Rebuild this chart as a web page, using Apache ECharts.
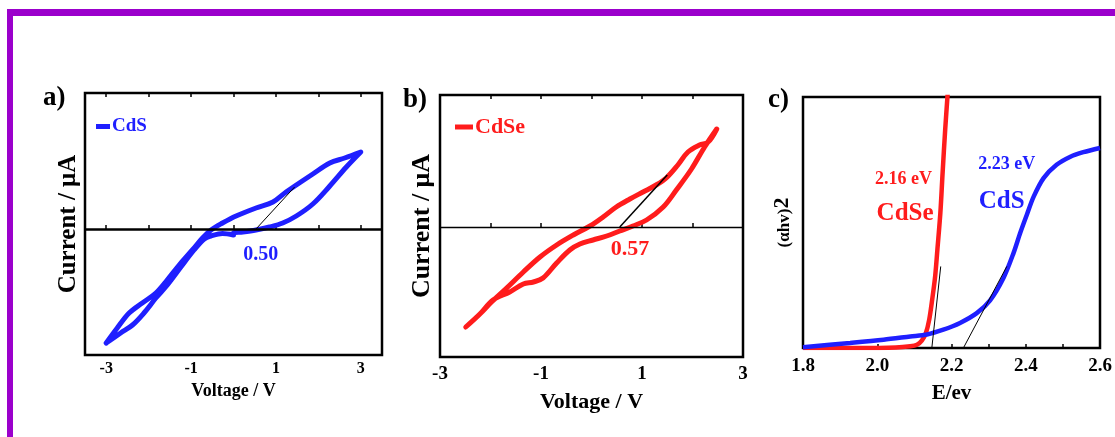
<!DOCTYPE html>
<html>
<head>
<meta charset="utf-8">
<script src="https://cdn.jsdelivr.net/npm/echarts@6/dist/echarts.min.js"></script>
<style>
html, body { margin: 0; padding: 0; background: #fff; }
#chart { width: 1115px; height: 437px; }
</style>
</head>
<body>
<div id="chart"></div>
<script>
// a) CdS current-voltage loop (forward sweep, then back)
var cdsFwdV = [-3, -2.74, -2.46, -2.15, -1.83, -1.6, -1.28, -0.97, -0.73, -0.53, -0.26, 0.06, 0.53, 0.93, 1.24, 1.48, 1.87, 2.27, 2.62, 3];
var cdsFwdI = [-11.4, -9.9, -8.4, -7.4, -6.4, -5.3, -3.6, -2.1, -0.9, -0.1, 0.6, 1.3, 2.1, 2.7, 3.7, 4.4, 5.5, 6.6, 7.1, 7.7];
var cdsRevV = [2.66, 2.27, 1.87, 1.48, 1.16, 0.85, 0.53, 0.22, 0.0, 0.0, -0.26, -0.53, -0.69, -0.93, -1.24, -1.56, -1.83, -2.11, -2.38, -2.66, -3];
var cdsRevI = [6.2, 4.3, 2.5, 1.3, 0.6, 0.2, -0.1, -0.3, -0.4, -0.6, -0.45, -0.7, -1.0, -2.1, -3.8, -5.6, -6.9, -8.4, -9.6, -10.4, -11.4];
var cdsTangentV = [0.53, 1.44];
var cdsTangentI = [0, 4.2];

// b) CdSe current-voltage loop
var cdseFwdV = [-2.49, -2.21, -1.98, -1.68, -1.35, -1.02, -0.69, -0.36, -0.03, 0.23, 0.49, 0.76, 1.02, 1.28, 1.48, 1.71, 1.91, 2.14, 2.31, 2.48];
var cdseFwdI = [-10, -8.7, -7.5, -6.1, -4.5, -3.0, -1.8, -0.8, 0.1, 1.0, 2.0, 2.8, 3.5, 4.2, 4.9, 6.2, 7.5, 8.2, 8.5, 9.8];
var cdseRevV = [2.24, 1.98, 1.68, 1.42, 1.09, 0.82, 0.56, 0.3, 0.03, -0.23, -0.43, -0.69, -0.96, -1.15, -1.35, -1.62, -1.95, -2.21, -2.49];
var cdseRevI = [8.0, 5.8, 3.7, 2.0, 0.7, 0.1, -0.4, -0.9, -1.3, -1.7, -2.3, -3.6, -5.1, -5.5, -5.7, -6.5, -7.3, -8.7, -10];
var cdseTangentV = [0.56, 1.5];
var cdseTangentI = [0, 5.2];

// c) Tauc plot
var cdsE = [1.8, 1.927, 2.017, 2.089, 2.134, 2.178, 2.223, 2.268, 2.304, 2.34, 2.367, 2.385, 2.403, 2.421, 2.448, 2.483, 2.519, 2.555, 2.6];
var cdsAbs = [0.3, 2.0, 3.3, 4.6, 5.4, 7.3, 10.0, 13.9, 19.0, 27.9, 37.8, 45.8, 53.1, 60.2, 67.7, 73.0, 76.1, 78.0, 79.7];
var cdseE = [1.8, 1.95, 2.05, 2.089, 2.107, 2.12, 2.131, 2.14, 2.148, 2.156, 2.162, 2.17, 2.176, 2.183, 2.19];
var cdseAbs = [0, 0, 0.2, 0.7, 1.3, 2.9, 6.0, 11.3, 19.3, 28.6, 39.2, 53.8, 69.7, 87.0, 102];
var cdseFitE = [2.147, 2.171];
var cdsFitE = [2.232, 2.349];
var fitAbs = [0, 32.5];

// tick labels
var ivTicks = [-3, -1, 1, 3];
var ivMinor = [-3, -2, -1, 0, 1, 2, 3];
var eTicks = [1.8, 2.0, 2.2, 2.4, 2.6];
var eMinor = [1.8, 1.9, 2.0, 2.1, 2.2, 2.3, 2.4, 2.5, 2.6];

// annotation texts
var gapTexts = ['0.50', '0.57', '2.16 eV', 'CdSe', '2.23 eV', 'CdS'];
var gapX = [0.64, 0.76, 2.071, 2.075, 2.349, 2.335];
var gapY = [-2.6, -2.2, 67, 53.5, 73, 58.5];

var BLUE = '#1f1fff';
var RED = '#ff1c1c';
var FONT = '"Liberation Serif", "Times New Roman", serif';

function zip(xs, ys) {
    return xs.map(function (x, i) { return [x, ys[i]]; });
}

function loop(fv, fi, rv, ri) {
    return zip(fv, fi).concat(zip(rv, ri));
}

function bottomAxis(grid, min, max, labels, ticks, fontSize, name, nameSize, nameGap, margin, fmt) {
    return {
        type: 'value', gridIndex: grid, min: min, max: max,
        name: name, nameLocation: 'middle', nameGap: nameGap,
        nameTextStyle: { fontFamily: FONT, fontWeight: 'bold', fontSize: nameSize, color: '#000' },
        axisLine: { show: false },
        axisTick: { show: true, inside: true, length: 4, customValues: ticks, lineStyle: { color: '#000', width: 1.5 } },
        axisLabel: {
            customValues: labels, margin: margin,
            fontFamily: FONT, fontWeight: 'bold', fontSize: fontSize, color: '#000',
            formatter: fmt || function (v) { return String(v); }
        },
        splitLine: { show: false }
    };
}

function topAxis(grid, min, max, ticks) {
    return {
        type: 'value', gridIndex: grid, min: min, max: max, position: 'top',
        axisLine: { show: false },
        axisTick: { show: true, inside: true, length: 4, customValues: ticks, lineStyle: { color: '#000', width: 1.5 } },
        axisLabel: { show: false },
        splitLine: { show: false }
    };
}

function leftAxis(grid, min, max, name, nameGap, nameStyle) {
    return {
        type: 'value', gridIndex: grid, min: min, max: max,
        name: name, nameLocation: 'middle', nameGap: nameGap, nameRotate: 90,
        nameTextStyle: nameStyle,
        axisLine: { show: false }, axisTick: { show: false },
        axisLabel: { show: false }, splitLine: { show: false }
    };
}

function labelPoint(i, xi, yi, color, size) {
    return {
        type: 'scatter', xAxisIndex: xi, yAxisIndex: yi,
        symbolSize: 1, itemStyle: { color: 'transparent', opacity: 1 }, silent: true,
        data: [[gapX[i], gapY[i]]],
        label: {
            show: true, position: 'inside', formatter: gapTexts[i], opacity: 1,
            fontFamily: FONT, fontWeight: 'bold', fontSize: size, color: color
        },
        z: 5
    };
}

var chart = echarts.init(document.getElementById('chart'));

var option = {
    backgroundColor: '#fff',
    animation: false,
    graphic: [
        { type: 'rect', shape: { x: 7, y: 9, width: 1108, height: 7 }, style: { fill: '#9b00cc' } },
        { type: 'rect', shape: { x: 7, y: 9, width: 6, height: 428 }, style: { fill: '#9b00cc' } }
    ],
    title: [
        { text: 'a)', left: 38, top: 80, textStyle: { fontFamily: FONT, fontWeight: 'bold', fontSize: 27, color: '#000' } },
        { text: 'b)', left: 398, top: 82, textStyle: { fontFamily: FONT, fontWeight: 'bold', fontSize: 27, color: '#000' } },
        { text: 'c)', left: 763, top: 82, textStyle: { fontFamily: FONT, fontWeight: 'bold', fontSize: 27, color: '#000' } }
    ],
    legend: [
        {
            data: [{ name: 'CdS', textStyle: { color: BLUE } }],
            left: 91, top: 112, icon: 'rect', itemWidth: 14, itemHeight: 5, selectedMode: false,
            textStyle: { fontFamily: FONT, fontWeight: 'bold', fontSize: 19, padding: [0, 0, 0, -3] }
        },
        {
            data: [{ name: 'CdSe', textStyle: { color: RED } }],
            left: 450, top: 111, icon: 'rect', itemWidth: 18, itemHeight: 5, selectedMode: false,
            textStyle: { fontFamily: FONT, fontWeight: 'bold', fontSize: 22, padding: [0, 0, 0, -3] }
        }
    ],
    grid: [
        { left: 85, top: 93, width: 297, height: 262, show: true, borderColor: '#000', borderWidth: 2.5, backgroundColor: 'transparent' },
        { left: 440, top: 95, width: 303, height: 262, show: true, borderColor: '#000', borderWidth: 2.5, backgroundColor: 'transparent' },
        { left: 803, top: 97, width: 297, height: 251, show: true, borderColor: '#000', borderWidth: 2.5, backgroundColor: 'transparent' }
    ],
    xAxis: [
        bottomAxis(0, -3.5, 3.5, ivTicks, ivMinor, 16, 'Voltage / V', 18, 26, 6),
        bottomAxis(1, -3, 3, ivTicks, ivMinor, 19, 'Voltage / V', 22, 34, 8),
        bottomAxis(2, 1.8, 2.6, eTicks, eMinor, 19, 'E/ev', 21, 35, 9, function (v) { return v.toFixed(1); }),
        topAxis(0, -3.5, 3.5, ivMinor),
        topAxis(1, -3, 3, ivMinor)
    ],
    yAxis: [
        leftAxis(0, -12.6, 13.6, 'Current / μA', 4, { fontFamily: FONT, fontWeight: 'bold', fontSize: 25, color: '#000' }),
        leftAxis(1, -13, 13.2, 'Current / μA', 5, { fontFamily: FONT, fontWeight: 'bold', fontSize: 26, color: '#000' }),
        leftAxis(2, 0, 100, '{s|(αhv)}{b|2}', 10, {
            color: '#000',
            rich: {
                s: { fontFamily: FONT, fontWeight: 'bold', fontSize: 17, color: '#000', verticalAlign: 'bottom' },
                b: { fontFamily: FONT, fontWeight: 'bold', fontSize: 22, color: '#000', verticalAlign: 'bottom' }
            }
        })
    ],
    series: [
        {
            name: 'CdS', type: 'line', xAxisIndex: 0, yAxisIndex: 0,
            data: loop(cdsFwdV, cdsFwdI, cdsRevV, cdsRevI),
            smooth: 0.35, showSymbol: false, color: BLUE,
            lineStyle: { width: 5, color: BLUE, cap: 'round', join: 'round' },
            markLine: {
                silent: true, symbol: 'none', label: { show: false },
                lineStyle: { color: '#000', width: 2.5, type: 'solid' },
                data: [{ yAxis: 0 }]
            }
        },
        {
            name: 'cds-tangent', type: 'line', xAxisIndex: 0, yAxisIndex: 0,
            data: zip(cdsTangentV, cdsTangentI), showSymbol: false,
            lineStyle: { width: 1, color: '#000' }, z: 3
        },
        labelPoint(0, 0, 0, BLUE, 20),
        {
            name: 'CdSe', type: 'line', xAxisIndex: 1, yAxisIndex: 1,
            data: loop(cdseFwdV, cdseFwdI, cdseRevV, cdseRevI),
            smooth: 0.35, showSymbol: false, color: RED,
            lineStyle: { width: 5, color: RED, cap: 'round', join: 'round' },
            markLine: {
                silent: true, symbol: 'none', label: { show: false },
                lineStyle: { color: '#000', width: 1.3, type: 'solid' },
                data: [{ yAxis: 0 }]
            }
        },
        {
            name: 'cdse-tangent', type: 'line', xAxisIndex: 1, yAxisIndex: 1,
            data: zip(cdseTangentV, cdseTangentI), showSymbol: false,
            lineStyle: { width: 1.5, color: '#000' }, z: 3
        },
        labelPoint(1, 1, 1, RED, 22),
        {
            name: 'CdSe absorption', type: 'line', xAxisIndex: 2, yAxisIndex: 2,
            data: zip(cdseE, cdseAbs), smooth: 0.3, showSymbol: false,
            lineStyle: { width: 4.5, color: RED }, clip: true
        },
        {
            name: 'CdS absorption', type: 'line', xAxisIndex: 2, yAxisIndex: 2,
            data: zip(cdsE, cdsAbs), smooth: 0.3, showSymbol: false,
            lineStyle: { width: 4.5, color: BLUE }, clip: true
        },
        {
            name: 'cdse-fit', type: 'line', xAxisIndex: 2, yAxisIndex: 2,
            data: zip(cdseFitE, fitAbs), showSymbol: false,
            lineStyle: { width: 1, color: '#000' }, z: 3
        },
        {
            name: 'cds-fit', type: 'line', xAxisIndex: 2, yAxisIndex: 2,
            data: zip(cdsFitE, fitAbs), showSymbol: false,
            lineStyle: { width: 1, color: '#000' }, z: 3
        },
        labelPoint(2, 2, 2, RED, 18),
        labelPoint(3, 2, 2, RED, 25),
        labelPoint(4, 2, 2, BLUE, 18),
        labelPoint(5, 2, 2, BLUE, 25)
    ]
};

chart.setOption(option);
</script>
</body>
</html>
